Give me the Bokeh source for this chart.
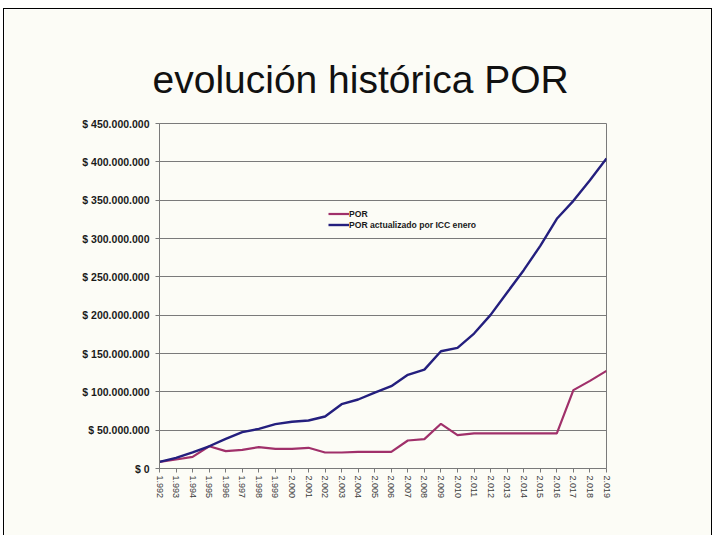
from bokeh.plotting import figure
from bokeh.models import FixedTicker, Range1d, Legend, LegendItem
from bokeh.embed import file_html
from bokeh.resources import INLINE

years = list(range(1992, 2020))
year_labels = ["1.992", "1.993", "1.994", "1.995", "1.996", "1.997", "1.998", "1.999",
               "2.000", "2.001", "2.002", "2.003", "2.004", "2.005", "2.006", "2.007",
               "2.008", "2.009", "2.010", "2.011", "2.012", "2.013", "2.014", "2.015",
               "2.016", "2.017", "2.018", "2.019"]

por = [8.7, 11.7, 15.2, 29.0, 22.6, 24.3, 27.8, 25.7, 25.7, 27.0, 20.9, 20.9, 21.7, 21.7,
       21.7, 36.5, 38.3, 58.3, 43.5, 45.7, 45.7, 45.7, 45.7, 45.7, 45.7, 102.2, 114.3, 127.4]
por = [v * 1e6 for v in por]

por_icc = [8.7, 13.9, 20.9, 29.0, 38.7, 47.4, 51.7, 57.8, 60.9, 62.6, 67.8, 83.9, 90.0, 99.0,
           107.4, 122.2, 129.0, 153.0, 157.4, 176.0, 200.4, 229.6, 258.7, 290.4, 325.7, 349.1,
           376.0, 404.4]
por_icc = [v * 1e6 for v in por_icc]

y_ticks = [0, 50e6, 100e6, 150e6, 200e6, 250e6, 300e6, 350e6, 400e6, 450e6]
y_labels = ["$ 0", "$ 50.000.000", "$ 100.000.000", "$ 150.000.000", "$ 200.000.000",
            "$ 250.000.000", "$ 300.000.000", "$ 350.000.000", "$ 400.000.000", "$ 450.000.000"]

title_text = "evolución histórica POR"
series_names = ["POR", "POR actualizado por ICC enero"]
series_colors = ["#A0306A", "#241F7E"]

BG = "#FCFCF6"
GRID = "#7A7A7A"
FONT = "Liberation Sans"

p = figure(width=709, height=527, output_backend="svg", toolbar_location=None,
           x_range=Range1d(years[0], years[-1]), y_range=Range1d(y_ticks[0], y_ticks[-1]),
           min_border_left=155, min_border_right=107, min_border_top=114, min_border_bottom=68)
p.styles = {"margin-left": "3px", "margin-top": "8px",
            "border-top": "1px solid black", "border-left": "1px solid black",
            "border-right": "1px solid black"}

p.background_fill_color = BG
p.border_fill_color = BG
p.outline_line_color = GRID
p.outline_line_width = 1

p.title.text = title_text
p.title.align = "left"
p.title.offset = -7
p.title.standoff = 45
p.title.text_font = FONT
p.title.text_font_size = "39px"
p.title.text_font_style = "normal"
p.title.text_color = "#111111"

r1 = p.line(years, por, line_color=series_colors[0], line_width=2.2)
r2 = p.line(years, por_icc, line_color=series_colors[1], line_width=2.4)

# axes
p.xaxis.ticker = FixedTicker(ticks=years)
p.xaxis.major_label_overrides = {y: s for y, s in zip(years, year_labels)}
p.xaxis.major_label_orientation = "vertical"
p.xaxis.major_label_text_font = FONT
p.xaxis.major_label_text_font_size = "9px"
p.xaxis.major_label_text_color = "#3a3a3a"
p.xaxis.major_label_standoff = 3

p.yaxis.ticker = FixedTicker(ticks=y_ticks)
p.yaxis.major_label_overrides = {t: s for t, s in zip(y_ticks, y_labels)}
p.yaxis.major_label_text_font = FONT
p.yaxis.major_label_text_font_size = "10.5px"
p.yaxis.major_label_text_font_style = "bold"
p.yaxis.major_label_text_color = "#1a1a1a"
p.yaxis.major_label_standoff = 6

for ax in (p.xaxis, p.yaxis):
    ax.axis_line_color = GRID
    ax.major_tick_line_color = GRID
    ax.major_tick_out = 4
    ax.major_tick_in = 0
    ax.minor_tick_line_color = None

p.xgrid.grid_line_color = None
p.ygrid.grid_line_color = GRID
p.ygrid.grid_line_width = 1

# legend
legend = Legend(items=[LegendItem(label=series_names[0], renderers=[r1]),
                       LegendItem(label=series_names[1], renderers=[r2])],
                location=(169, 238), padding=0, margin=0, spacing=0,
                label_height=11, glyph_height=11, glyph_width=21, label_standoff=0,
                label_text_font=FONT, label_text_font_size="8.6px",
                label_text_font_style="bold", label_text_color="#1a1a1a",
                border_line_alpha=0, background_fill_alpha=0)
p.add_layout(legend)

open("out.html", "w").write(file_html(p, INLINE))
